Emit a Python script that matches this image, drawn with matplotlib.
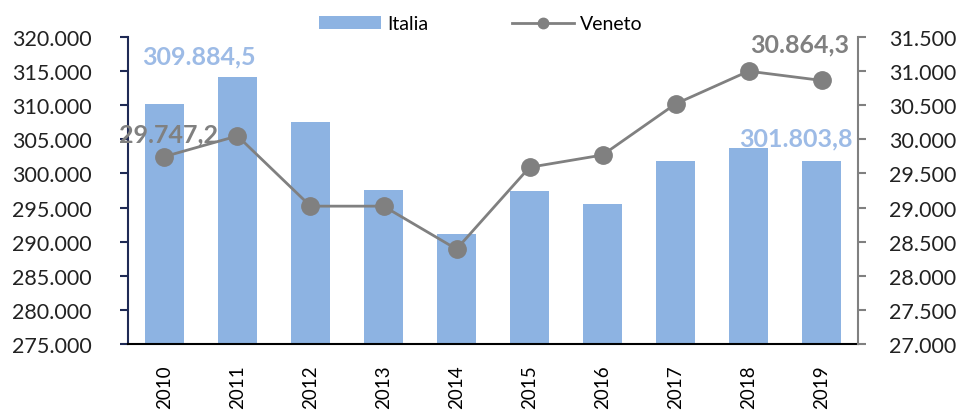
import numpy as np
import matplotlib.pyplot as plt
from matplotlib.ticker import FuncFormatter

plt.rcParams['font.family'] = ['Lato', 'DejaVu Sans']

# data
anni = ["2010", "2011", "2012", "2013", "2014", "2015", "2016", "2017", "2018", "2019"]
italia = [310200, 314100, 307500, 297600, 291100, 297400, 295500, 301800, 303700, 301803.8]
veneto = [29747.2, 30050, 29020, 29020, 28390, 29590, 29770, 30520, 31000, 30864.3]

blu = "#8DB3E2"
grigio = "#808080"

def fmt_it(v, pos=None):
    return "{:,.0f}".format(v).replace(",", ".")

fig = plt.figure(figsize=(9.62, 4.14), dpi=100)
ax = fig.add_axes([0.133, 0.167, 0.759, 0.741])
x = np.arange(len(anni))

ax.bar(x, italia, width=0.53, color=blu, zorder=1, label="Italia")
ax.set_ylim(275000, 320000)
ax.set_xlim(-0.5, len(anni) - 0.5)
ax.set_yticks(np.arange(275000, 320001, 5000))
ax.yaxis.set_major_formatter(FuncFormatter(fmt_it))
ax.set_xticks(x)
ax.set_xticklabels(anni, rotation=90, fontsize=13.5)
ax.tick_params(axis="x", length=0, pad=15)
ax.tick_params(axis="y", labelsize=15.5, colors="#1F2A55", length=6, width=1.5,
               labelcolor="#222222", pad=20)
for s in ["top", "right"]:
    ax.spines[s].set_visible(False)
ax.spines["left"].set_color("#1F2A55")
ax.spines["left"].set_linewidth(1.5)
ax.spines["bottom"].set_color("black")
ax.spines["bottom"].set_linewidth(1.5)

ax2 = ax.twinx()
ax2.plot(x, veneto, color=grigio, lw=2, marker="o", markersize=12.5, label="Veneto")
ax2.set_ylim(27000, 31500)
ax2.set_yticks(np.arange(27000, 31501, 500))
ax2.yaxis.set_major_formatter(FuncFormatter(fmt_it))
ax2.tick_params(axis="y", labelsize=15.5, colors=grigio, length=6, width=1.5,
                labelcolor="#222222", pad=16)
for s in ["top", "left", "bottom"]:
    ax2.spines[s].set_visible(False)
ax2.spines["right"].set_color(grigio)
ax2.spines["right"].set_linewidth(1.5)

# data labels
ax.text(0.47, 317200, "309.884,5", color="#9DBBE6", fontsize=18, fontweight="bold",
        ha="center", va="center")
ax.text(8.65, 305200, "301.803,8", color="#9DBBE6", fontsize=18, fontweight="bold",
        ha="center", va="center")
ax2.text(0.05, 30080, "29.747,2", color=grigio, fontsize=18, fontweight="bold",
         ha="center", va="center")
ax2.text(8.7, 31400, "30.864,3", color=grigio, fontsize=18, fontweight="bold",
         ha="center", va="center")

h1, l1 = ax.get_legend_handles_labels()
h2, l2 = ax2.get_legend_handles_labels()
fig.legend(h1 + h2, l1 + l2, loc="center", bbox_to_anchor=(0.5, 0.94), ncol=2,
           frameon=False, fontsize=14, handlelength=3.2, handletextpad=0.3,
           columnspacing=4.3, markerscale=0.6)

fig.savefig("out.png", dpi=100)
